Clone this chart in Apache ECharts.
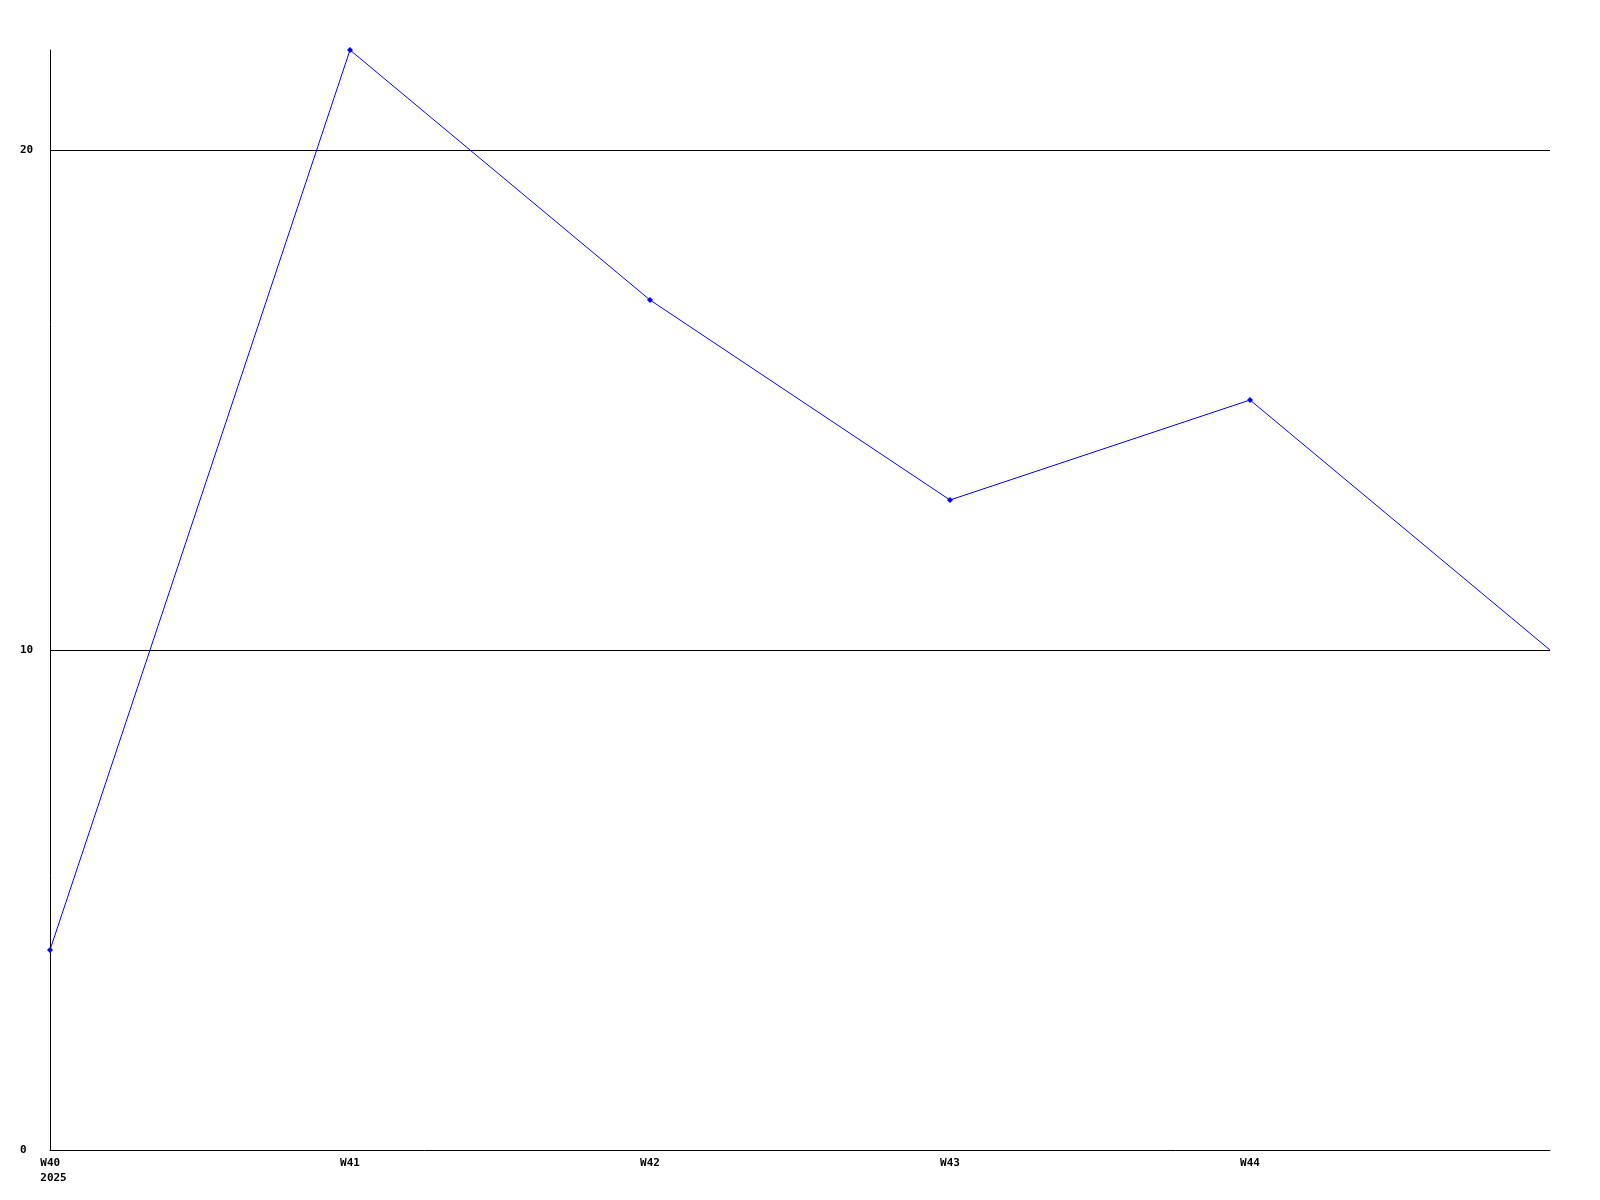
<!DOCTYPE html>
<html>
<head>
<meta charset="utf-8">
<script src="https://cdn.jsdelivr.net/npm/echarts@6/dist/echarts.min.js"></script>
<style>html,body{margin:0;padding:0;background:#fff}#c{width:1600px;height:1200px}</style>
</head>
<body>
<div id="c"></div>
<script>
const categories = ['W40', 'W41', 'W42', 'W43', 'W44', 'W45'];
const values = [4, 22, 17, 13, 15, 10];
const yTicks = [0, 10, 20];
const yearLabel = '2025';

const chart = echarts.init(document.getElementById('c'), null, {renderer: 'canvas'});
const font = 'DejaVu Sans Mono';
const seriesData = values.map((v, i) => i === values.length - 1 ? {value: v, symbol: 'none'} : v);
chart.setOption({
  animation: false,
  backgroundColor: '#ffffff',
  grid: {left: 50, right: 50, top: 50, bottom: 50, containLabel: false},
  xAxis: {
    type: 'category',
    data: categories,
    boundaryGap: false,
    axisLine: {lineStyle: {color: '#000', width: 1}},
    axisTick: {show: false},
    splitLine: {show: false},
    axisLabel: {
      interval: 0,
      margin: 6,
      color: '#000',
      fontFamily: font,
      fontWeight: 'bold',
      fontSize: 11,
      lineHeight: 15,
      formatter: function (v, i) {
        if (i === categories.length - 1) return '';
        if (i === 0) return '{a|' + v + '}\n{a|' + yearLabel + '}';
        return v;
      },
      rich: {
        a: {align: 'left', padding: [0, 0, 0, 7], fontFamily: font, fontWeight: 'bold', fontSize: 11, lineHeight: 15, color: '#000'}
      }
    }
  },
  yAxis: {
    type: 'value',
    min: 0,
    max: 22,
    interval: 10,
    axisLine: {show: true, lineStyle: {color: '#000', width: 1}},
    axisTick: {show: false},
    splitLine: {show: false},
    axisLabel: {
      margin: 30,
      align: 'left',
      color: '#000',
      fontFamily: font,
      fontWeight: 'bold',
      fontSize: 11,
      formatter: function (v) { return yTicks.indexOf(v) >= 0 ? String(v) : ''; }
    }
  },
  series: [{
    type: 'line',
    data: seriesData,
    symbol: 'diamond',
    symbolSize: 6,
    showAllSymbol: true,
    lineStyle: {color: '#0000ff', width: 1},
    itemStyle: {color: '#0000ff'},
    markLine: {
      silent: true,
      symbol: 'none',
      label: {show: false},
      lineStyle: {color: '#000', width: 1, type: 'solid'},
      z: 1,
      data: yTicks.filter(v => v > 0).map(v => ({yAxis: v}))
    }
  }]
});
</script>
</body>
</html>
